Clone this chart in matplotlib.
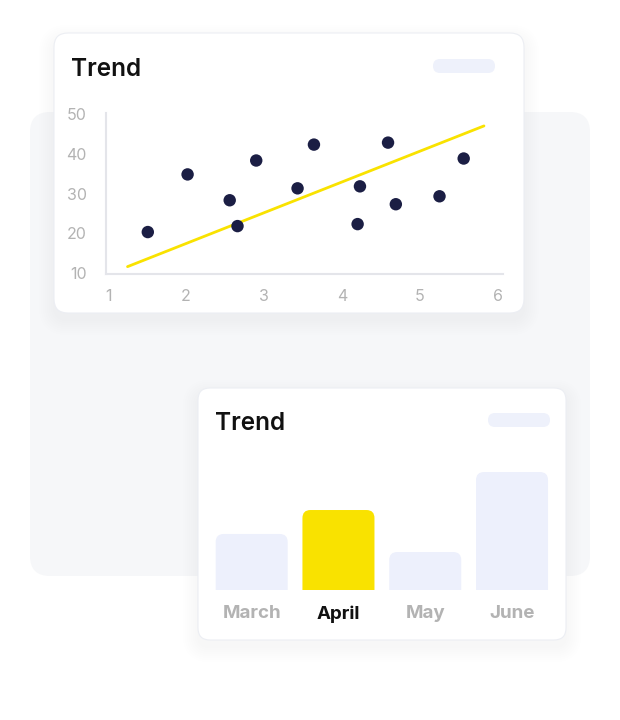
import matplotlib
matplotlib.use("Agg")
import matplotlib.pyplot as plt
from matplotlib.patches import FancyBboxPatch
import numpy as np

plt.rcParams['font.family'] = ['Inter', 'DejaVu Sans']

# scatter card data
scatter_x = [1.51, 2.02, 2.56, 2.66, 2.90, 3.43, 3.64, 4.23, 4.20, 4.59, 4.69, 5.25, 5.56]
scatter_y = [20.3, 34.8, 28.3, 21.8, 38.3, 31.3, 42.3, 31.8, 22.3, 42.8, 27.3, 29.3, 38.8]
trend_x = [1.25, 5.82]
trend_y = [11.6, 47.0]
x_ticks = [1, 2, 3, 4, 5, 6]
y_ticks = [10, 20, 30, 40, 50]

# bar card data
months = ["March", "April", "May", "June"]
bar_values = [47.5, 67.8, 32.2, 100]
highlight = "April"

W, H = 620, 720
DOT = "#1b1e44"
YELLOW = "#f9e200"
PALE = "#edf0fc"
GRAY_TXT = "#b3b3b3"


def card(ax, x, y, w, h, r, color="white", shadow=True):
    # soft drop shadow from stacked translucent boxes
    if shadow:
        for i in range(8):
            g = 1 + i * 2.0
            ax.add_patch(FancyBboxPatch((x - g, y - g + 7), w + 2 * g, h + 2 * g,
                                        boxstyle="round,pad=0,rounding_size=%f" % (r + g),
                                        fc="#9aa0bb", ec="none", alpha=0.006, zorder=1))
    ax.add_patch(FancyBboxPatch((x, y), w, h,
                                boxstyle="round,pad=0,rounding_size=%f" % r,
                                fc=color, ec="#eceef3", lw=0.8, zorder=2))


fig = plt.figure(figsize=(W / 100, H / 100), dpi=100)
bg = fig.add_axes([0, 0, 1, 1])
bg.set_xlim(0, W)
bg.set_ylim(H, 0)
bg.axis("off")

# grey panel behind
bg.add_patch(FancyBboxPatch((30, 112), 560, 464, boxstyle="round,pad=0,rounding_size=20",
                            fc="#f6f7f9", ec="none", zorder=0))
card(bg, 54, 33, 470, 280, 14)
card(bg, 198, 388, 368, 252, 12)

# titles + pills
bg.text(71, 69, "Trend", fontsize=17.5, fontweight="semibold", color="#111111", va="center", zorder=3)
bg.text(215, 423, "Trend", fontsize=17.5, fontweight="semibold", color="#111111", va="center", zorder=3)
bg.add_patch(FancyBboxPatch((433, 59), 62, 14, boxstyle="round,pad=0,rounding_size=7",
                            fc="#eef1fb", ec="none", zorder=3))
bg.add_patch(FancyBboxPatch((488, 413), 62, 14, boxstyle="round,pad=0,rounding_size=7",
                            fc="#eef1fb", ec="none", zorder=3))

# ---- scatter chart ----
ax1 = fig.add_axes([106 / W, 1 - 274 / H, 397 / W, 161 / H])
ax1.patch.set_alpha(0)
ax1.set_xlim(0.974, 6.064)
ax1.set_ylim(9.75, 50.25)
ax1.plot(trend_x, trend_y, color=YELLOW, lw=2, zorder=2, solid_capstyle="round")
ax1.scatter(scatter_x, scatter_y, s=80, color=DOT, zorder=3, edgecolors="none")
for s in ["top", "right"]:
    ax1.spines[s].set_visible(False)
for s in ["left", "bottom"]:
    ax1.spines[s].set_color("#e4e5ea")
    ax1.spines[s].set_linewidth(1.5)
ax1.set_xticks(x_ticks)
ax1.set_yticks(y_ticks)
ax1.tick_params(axis="x", length=0, pad=11, labelsize=11.5, labelcolor=GRAY_TXT)
ax1.tick_params(axis="y", length=0, pad=14, labelsize=11.5, labelcolor=GRAY_TXT)

# ---- bar chart ----
ax2 = fig.add_axes([208.3 / W, 1 - 590 / H, 347.1 / W, 130 / H])
ax2.patch.set_alpha(0)
ax2.set_xlim(-0.5, 3.5)
ax2.set_ylim(0, 110.2)
colors = [YELLOW if m == highlight else PALE for m in months]
bars = ax2.bar(range(len(months)), bar_values, width=0.83, color=colors)

# swap plain bars for ones with rounded top corners
px_x = 347.1 / 4.0
px_y = 130 / 110.2
r = 8 / px_x
for b, c in zip(bars, colors):
    b.set_visible(False)
    ax2.add_patch(FancyBboxPatch((b.get_x(), -20), b.get_width(), b.get_height() + 20,
                                 boxstyle="round,pad=0,rounding_size=%f" % r,
                                 mutation_aspect=px_x / px_y, fc=c, ec="none"))
for s in ax2.spines.values():
    s.set_visible(False)
ax2.set_yticks([])
ax2.set_xticks(range(len(months)), months)
ax2.tick_params(axis="x", length=0, pad=11, labelsize=13.5)
for lab in ax2.get_xticklabels():
    lab.set_fontweight("bold")
    lab.set_color("#111111" if lab.get_text() == highlight else GRAY_TXT)

fig.savefig("out.png", dpi=100, facecolor="white")
